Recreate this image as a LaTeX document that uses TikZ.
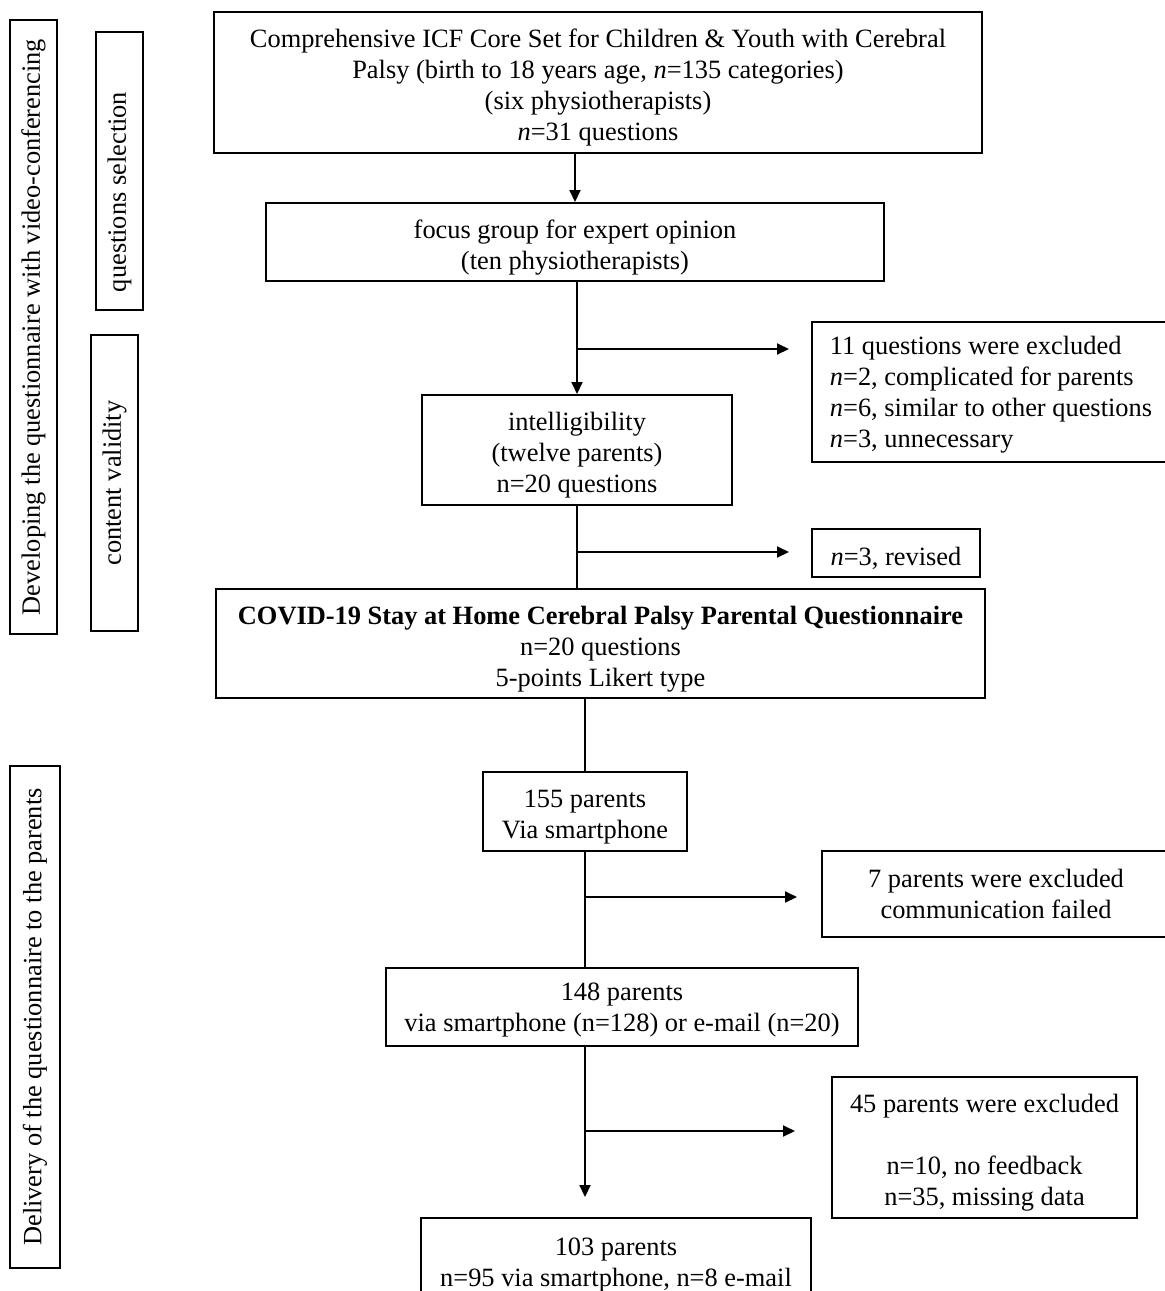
\documentclass[tikz,border=0pt]{standalone}
\usepackage{fontspec}
\setmainfont{Liberation Serif}
\usetikzlibrary{arrows.meta}
\newcommand\fsz{\fontsize{13.2pt}{15.5pt}\selectfont}
\newcommand\tp{\rule{0pt}{14.5pt}}
\tikzset{
  box/.style={draw, line width=1pt, inner sep=0pt, align=center, font=\fsz},
  sidebox/.style={box, rotate=90},
  conn/.style={line width=1pt},
  arr/.style={conn, -{Triangle[length=6pt,width=5.5pt]}}
}
\begin{document}
\begin{tikzpicture}[x=0.5pt,y=-0.5pt]
\useasboundingbox (0,0) rectangle (1165,1291);
% side boxes
\node[sidebox, minimum width=307pt, minimum height=23.5pt] (dev) at (33.5,327) {Developing the questionnaire with video-conferencing};
\node[sidebox, minimum width=139pt, minimum height=23.5pt] (qsel) at (119.5,171) {questions selection\hspace*{21pt}};
\node[sidebox, minimum width=148pt, minimum height=23.5pt] (cval) at (114.5,483) {content validity};
\node[sidebox, minimum width=251pt, minimum height=25pt] (deliv) at (35,1017) {Delivery of the questionnaire to the parents};
% main boxes
\node[box, minimum width=384pt, minimum height=70.5pt] (icf) at (598,82.5) {\tp Comprehensive ICF Core Set for Children \& Youth with Cerebral\\ Palsy (birth to 18 years age, \textit{n}=135 categories)\\ (six physiotherapists)\\ \textit{n}=31 questions};
\node[box, minimum width=309pt, minimum height=39pt] (focus) at (575,242) {\tp focus group for expert opinion\\ (ten physiotherapists)};
\node[box, minimum width=155pt, minimum height=55pt] (intel) at (577,450) {\tp intelligibility\\ (twelve parents)\\ n=20 questions};
\node[box, align=left, minimum width=179pt, minimum height=70pt] (excl) at (991,392) {\rule{0pt}{12pt}11 questions were excluded\\ \textit{n}=2, complicated for parents\\ \textit{n}=6, similar to other questions\\ \textit{n}=3, unnecessary};
\node[box, minimum width=84pt, minimum height=24pt] (rev) at (896,553) {\tp\textit{n}=3, revised};
\node[box, minimum width=384.5pt, minimum height=54.5pt] (covid) at (600.5,643.5) {\tp\textbf{COVID-19 Stay at Home Cerebral Palsy Parental Questionnaire}\\ n=20 questions\\ 5-points Likert type};
\node[box, minimum width=102pt, minimum height=39.5pt] (p155) at (585,811.5) {\tp 155 parents\\ Via smartphone};
\node[box, minimum width=174pt, minimum height=43pt] (ex7) at (996,894) {7 parents were excluded\\ communication failed};
\node[box, minimum width=236pt, minimum height=39pt] (p148) at (622,1007) {\rule{0pt}{12pt}148 parents\\ via smartphone (n=128) or e-mail (n=20)};
\node[box, minimum width=152.5pt, minimum height=70.5pt] (ex45) at (984.5,1147.5) {\tp 45 parents were excluded\\[15.5pt] n=10, no feedback\\ n=35, missing data};
\node[box, minimum width=195pt, minimum height=41pt] (p103) at (616,1259) {\tp 103 parents\\ n=95 via smartphone, n=8 e-mail};
% vertical connectors
\draw[arr] (focus.north |- icf.south) -- (focus.north);
\draw[arr] (intel.north |- focus.south) -- (intel.north);
\draw[conn] (intel.south) -- (intel.south |- covid.north);
\draw[conn] (p155.north |- covid.south) -- (p155.north);
\draw[conn] (p155.south) -- (p155.south |- p148.north);
\draw[arr, shorten >=10pt] (p155.south |- p148.south) -- (p155.south |- p103.north);
% branch arrows
\coordinate (b1) at (577,349);
\coordinate (b2) at (577,552);
\coordinate (b3) at (585,897);
\coordinate (b4) at (585,1131);
\draw[arr, shorten >=11pt] (b1) -- (excl.west |- b1);
\draw[arr, shorten >=11pt] (b2) -- (rev.west |- b2);
\draw[arr, shorten >=12pt] (b3) -- (ex7.west |- b3);
\draw[arr, shorten >=18pt] (b4) -- (ex45.west |- b4);
\end{tikzpicture}
\end{document}
